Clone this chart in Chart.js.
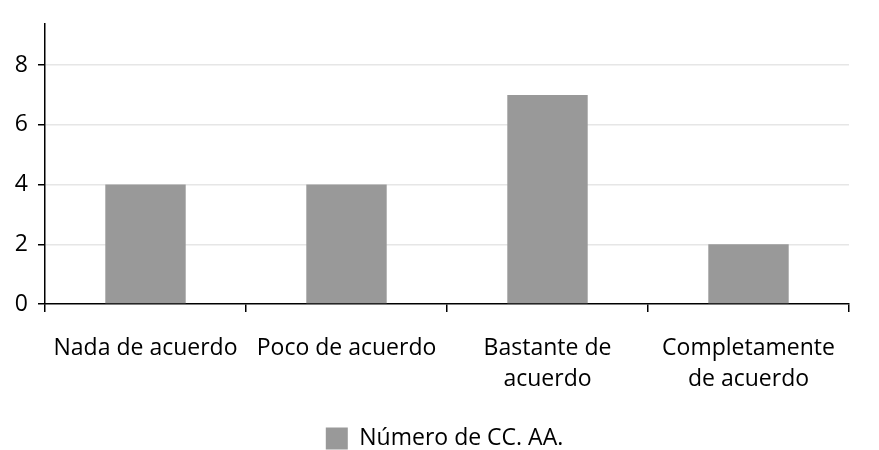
<!DOCTYPE html>
<html>
<head>
<meta charset="utf-8">
<script src="https://cdn.jsdelivr.net/npm/chart.js@4/dist/chart.umd.min.js"></script>
<style>
html,body{margin:0;padding:0;background:#fff;}
#wrap{width:879px;height:450px;}
</style>
</head>
<body>
<div id="wrap"><canvas id="c" width="879" height="450"></canvas></div>
<script>
const categories = ["Nada de acuerdo", "Poco de acuerdo", ["Bastante de", "acuerdo"], ["Completamente", "de acuerdo"]];
const seriesName = "Número de CC. AA.";
const values = [4, 4, 7, 2];
const yTicks = [0, 2, 4, 6, 8];
const yMax = 9.38;

const FONT = "'Open Sans', 'Noto Sans', sans-serif";

const shiftLegend = {
  id: 'shiftLegend',
  afterLayout(chart) {
    const lg = chart.legend;
    if (lg) {
      lg.top += 10;
      lg.bottom += 10;
      lg.left += 20;
      lg.right += 20;
      if (lg.legendHitBoxes) {
        lg.legendHitBoxes.forEach(b => { b.top += 10; b.left += 20; });
      }
    }
  }
};

new Chart(document.getElementById('c'), {
  type: 'bar',
  plugins: [shiftLegend],
  data: {
    labels: categories,
    datasets: [{
      label: seriesName,
      data: values,
      backgroundColor: '#999999',
      borderWidth: 0,
      barPercentage: 0.4,
      categoryPercentage: 1.0
    }]
  },
  options: {
    responsive: false,
    animation: false,
    layout: { padding: { top: 10, right: 30, left: 0, bottom: 0 } },
    plugins: {
      legend: {
        position: 'bottom',
        labels: {
          font: { family: FONT, size: 23 },
          color: '#000',
          boxWidth: 22,
          boxHeight: 22,
          padding: 0
        }
      },
      tooltip: { enabled: false }
    },
    scales: {
      x: {
        offset: true,
        afterFit: (axis) => { axis.height = 113; },
        grid: {
          offset: true,
          drawOnChartArea: false,
          drawTicks: true,
          tickLength: 8,
          color: '#000',
          lineWidth: 1.5
        },
        border: { color: '#000', width: 1.5 },
        ticks: {
          font: { family: FONT, size: 23, lineHeight: 1.35 },
          color: '#000',
          maxRotation: 0,
          autoSkip: false,
          padding: 21
        }
      },
      y: {
        min: 0,
        max: yMax,
        afterBuildTicks: (axis) => { axis.ticks = yTicks.map(v => ({ value: v })); },
        afterFit: (axis) => { axis.width = 45; },
        grid: {
          color: (ctx) => ctx.tick && ctx.tick.value === 0 ? 'rgba(0,0,0,0)' : '#e6e6e6',
          lineWidth: 1.5,
          drawTicks: true,
          tickLength: 7,
          tickColor: '#000'
        },
        border: { color: '#000', width: 1.5 },
        ticks: {
          font: { family: FONT, size: 23 },
          color: '#000',
          padding: 10
        }
      }
    }
  }
});
</script>
</body>
</html>
